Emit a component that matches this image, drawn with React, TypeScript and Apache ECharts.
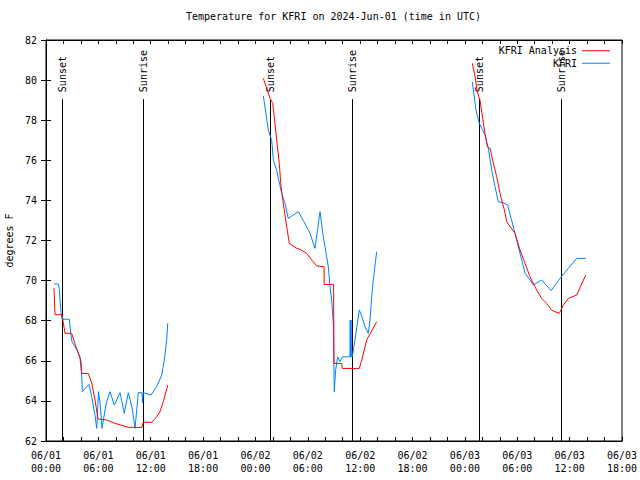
import React, { useEffect, useRef } from "react";
import * as echarts from "echarts";

// Hours since 2024-06-01 00:00 UTC
const analysisHours = [
  0.92, 1.03, 1.83, 2.18, 2.94, 3.36, 3.9, 4.08, 4.85, 5.24, 5.62, 5.96, 6.95, 7.9, 9.43, 10.97, 11.15, 12.11, 12.69, 13.06, 13.44, 13.95,
  null,
  24.9, 25.29, 25.67, 25.98, 26.16, 26.43, 26.73, 26.93, 27.19, 27.58, 27.88, 28.73, 29.1, 29.87, 30.45, 31.02, 31.86, 31.87, 32.95, 33.0, 33.88, 33.95, 35.9, 36.18, 36.75, 37.89,
  null,
  48.85, 49.16, 49.42, 49.73, 50.04, 50.3, 50.57, 50.88, 51.26, 51.64, 52.02, 52.52, 52.79, 53.17, 53.74, 54.31, 54.89, 55.46, 56.23, 56.8, 57.37, 57.95, 58.32, 58.82, 59.28, 59.85, 60.81, 61.84,
];
const analysisTemps = [
  69.62, 68.3, 68.3, 67.37, 67.37, 66.8, 66.12, 65.37, 65.37, 64.88, 64.04, 63.1, 63.05, 62.88, 62.68, 62.68, 62.93, 62.93, 63.21, 63.46, 63.96, 64.79,
  null,
  80.09, 79.59, 79.09, 78.84, 78.17, 77.01, 75.85, 74.68, 73.85, 72.69, 71.86, 71.61, 71.56, 71.36, 71.03, 70.73, 70.69, 69.81, 69.81, 65.87, 65.87, 65.62, 65.62, 66.04, 67.04, 67.95,
  null,
  80.84, 80.17, 79.42, 79.0, 78.09, 77.35, 76.68, 76.6, 75.85, 75.18, 74.35, 73.52, 72.94, 72.69, 72.36, 71.53, 70.86, 70.19, 69.52, 69.11, 68.86, 68.53, 68.45, 68.37, 68.78, 69.11, 69.28, 70.28,
];

const obsHours = [
  0.92, 1.41, 1.52, 1.68, 1.83, 2.67, 2.83, 2.98, 3.32, 3.59, 3.9, 4.04, 4.16, 4.93, 5.24, 5.61, 5.81, 6.02, 6.19, 6.42, 6.91, 7.33, 7.83, 8.48, 8.97, 9.43, 9.89, 10.2, 10.58, 11.0, 11.07, 11.15, 12.03, 12.68, 13.26, 13.56, 13.83, 13.95,
  null,
  24.9, 25.09, 25.47, 25.86, 26.05, 26.43, 26.62, 27.01, 27.39, 27.76, 28.91, 29.48, 30.25, 30.82, 31.4, 31.71, 31.97, 32.35, 32.54, 32.73, 32.92, 33.03, 33.19, 33.42, 33.69, 33.95, 34.83, 34.86, 34.9, 34.95, 35.0, 35.1, 35.4, 35.9, 36.2, 36.55, 36.93, 37.13, 37.32, 37.5, 37.89,
  null,
  48.85, 49.27, 49.65, 49.93, 50.3, 50.68, 51.07, 51.45, 51.83, 52.4, 52.9, 53.17, 53.74, 54.12, 54.51, 54.89, 55.46, 55.84, 56.8, 57.87, 58.9, 59.85, 60.81, 61.84,
];
const obsTemps = [
  69.83, 69.83, 69.6, 68.6, 68.07, 68.07, 67.37, 66.95, 66.7, 66.5, 66.2, 65.9, 64.46, 64.82, 64.2, 63.3, 62.63, 64.46, 63.9, 62.63, 63.9, 64.46, 63.79, 64.41, 63.38, 64.41, 63.6, 62.63, 64.41, 64.41, 63.9, 64.41, 64.29, 64.71, 65.29, 66.04, 67.04, 67.87,
  null,
  79.21, 78.67, 77.51, 77.0, 76.01, 75.5, 75.1, 74.35, 73.85, 73.1, 73.44, 73.0, 72.36, 71.61, 73.44, 72.36, 71.69, 70.69, 69.7, 69.03, 67.87, 64.46, 65.55, 66.2, 65.96, 66.2, 66.2, 68.03, 66.2, 68.03, 66.2, 66.2, 67.04, 68.53, 68.2, 67.7, 67.37, 68.03, 69.2, 70.03, 71.44,
  null,
  79.92, 78.51, 77.84, 77.6, 77.26, 76.6, 75.52, 74.68, 73.93, 73.88, 73.77, 73.3, 72.36, 71.69, 71.03, 70.36, 70.03, 69.78, 70.03, 69.5, 70.11, 70.61, 71.11, 71.11,
];

const sunsetHours = [1.8, 25.7, 49.65];
const sunriseHours = [11.15, 35.1, 59.0];

const seriesNames = ["KFRI Analysis", "KFRI"];
const titleText = "Temperature for KFRI on 2024-Jun-01 (time in UTC)";
const yAxisName = "degrees F";

const X_MIN = 0;
const X_MAX = 66;
const Y_MIN = 62;
const Y_MAX = 82;
const SUN_LINE_TOP = 79.05;

const FONT = '"DejaVu Sans Mono", "Liberation Mono", monospace';

function pairs(xs: (number | null)[], ys: (number | null)[]) {
  return xs.map((x, i) => (x === null || ys[i] === null ? [null, null] : [x, ys[i]]));
}

const sunEvents = [
  ...sunsetHours.map((h) => ({ hour: h, label: "Sunset" })),
  ...sunriseHours.map((h) => ({ hour: h, label: "Sunrise" })),
];

function xLabel(v: number) {
  const day = 1 + Math.floor(v / 24);
  const hh = Math.round(v % 24);
  return "06/" + String(day).padStart(2, "0") + "\n" + String(hh).padStart(2, "0") + ":00";
}

export default function App() {
  const ref = useRef<HTMLDivElement>(null);
  useEffect(() => {
    document.body.style.margin = "0";
    if (!ref.current) return;
    const chart = echarts.init(ref.current, null, { renderer: "svg" });
    const axisLine = { show: true, lineStyle: { color: "#000", width: 1 } };
    const tick = { show: true, inside: true, length: 4, lineStyle: { color: "#000" } };
    const minor = { show: true, splitNumber: 3, length: 4, lineStyle: { color: "#000" } };
    chart.setOption({
      animation: false,
      backgroundColor: "#fff",
      title: {
        text: titleText,
        left: 186,
        top: 11,
        padding: 0,
        textStyle: { fontFamily: FONT, fontSize: 10, fontWeight: "normal", color: "#000" },
      },
      legend: {
        data: seriesNames,
        orient: "vertical",
        right: 30,
        top: 44.5,
        padding: 0,
        align: "right",
        icon: "rect",
        itemWidth: 28,
        itemHeight: 1,
        itemGap: 0,
        textStyle: { fontFamily: FONT, fontSize: 10, color: "#000", lineHeight: 12.5 },
      },
      grid: {
        left: 46,
        right: 18,
        top: 40,
        bottom: 39,
        show: true,
        borderColor: "#000",
        borderWidth: 1,
        backgroundColor: "transparent",
        containLabel: false,
        outerBoundsMode: "none",
      },
      xAxis: [
        {
          type: "value",
          min: X_MIN,
          max: X_MAX,
          interval: 6,
          position: "bottom",
          axisLine,
          axisTick: tick,
          minorTick: minor,
          splitLine: { show: false },
          axisLabel: { formatter: xLabel, color: "#000", fontFamily: FONT, fontSize: 10, lineHeight: 13, margin: 8 },
        },
        {
          type: "value",
          min: X_MIN,
          max: X_MAX,
          interval: 6,
          position: "top",
          axisLine,
          axisTick: tick,
          minorTick: minor,
          splitLine: { show: false },
          axisLabel: { show: false },
        },
      ],
      yAxis: [
        {
          type: "value",
          min: Y_MIN,
          max: Y_MAX,
          interval: 2,
          position: "left",
          name: yAxisName,
          nameLocation: "middle",
          nameRotate: 90,
          nameGap: 30,
          nameTextStyle: { fontFamily: FONT, fontSize: 10, color: "#000" },
          axisLine,
          axisTick: { ...tick, length: 5 },
          splitLine: { show: false },
          axisLabel: { color: "#000", fontFamily: FONT, fontSize: 10, margin: 9 },
        },
        {
          type: "value",
          min: Y_MIN,
          max: Y_MAX,
          interval: 2,
          position: "right",
          axisLine,
          axisTick: { ...tick, length: 5 },
          splitLine: { show: false },
          axisLabel: { show: false },
        },
      ],
      series: [
        {
          type: "custom",
          name: "sun",
          data: sunEvents.map((e) => [e.hour]),
          z: 1,
          renderItem: (params: any, api: any) => {
            const h = api.value(0);
            const top = api.coord([h, SUN_LINE_TOP]);
            const bot = api.coord([h, Y_MIN]);
            const label = sunEvents[params.dataIndex].label;
            return {
              type: "group",
              children: [
                {
                  type: "line",
                  shape: { x1: Math.round(top[0]) + 0.5, y1: top[1], x2: Math.round(bot[0]) + 0.5, y2: bot[1] },
                  style: { stroke: "#000", lineWidth: 1 },
                },
                {
                  type: "text",
                  x: top[0] + 0.5,
                  y: top[1] - 7,
                  rotation: Math.PI / 2,
                  style: { text: label, fill: "#000", font: "10px " + FONT, align: "left", verticalAlign: "middle" },
                },
              ],
            };
          },
        },
        {
          type: "line",
          name: seriesNames[0],
          data: pairs(analysisHours, analysisTemps),
          showSymbol: false,
          symbol: "none",
          connectNulls: false,
          color: "#ff0000",
          lineStyle: { color: "#ff0000", width: 1 },
          z: 3,
        },
        {
          type: "line",
          name: seriesNames[1],
          data: pairs(obsHours, obsTemps),
          showSymbol: false,
          symbol: "none",
          connectNulls: false,
          color: "#0080ff",
          lineStyle: { color: "#0080ff", width: 1 },
          z: 2,
        },
      ],
    });
    return () => chart.dispose();
  }, []);
  return <div ref={ref} style={{ width: 640, height: 480 }} />;
}
